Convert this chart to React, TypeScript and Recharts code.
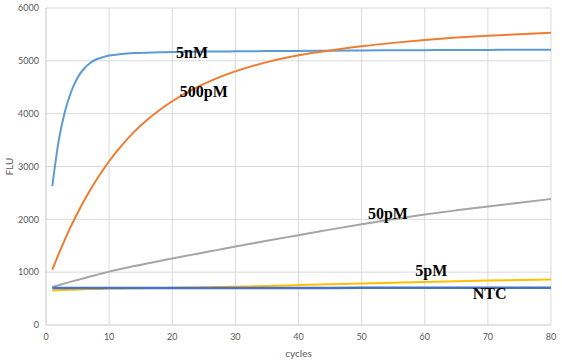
import React from 'react';
import { LineChart, Line, XAxis, YAxis, CartesianGrid, ReferenceDot } from 'recharts';

const cycles = [1, 2, 3, 4, 5, 6, 7, 8, 9, 10, 12, 14, 16, 18, 20, 22, 24, 26, 28, 30, 35, 40, 45, 50, 55, 60, 65, 70, 75, 80];
const series5nM = [2630, 3480, 4040, 4420, 4680, 4850, 4960, 5030, 5070, 5100, 5130, 5146, 5155, 5161, 5166, 5170, 5173, 5176, 5178, 5180, 5184, 5188, 5192, 5196, 5199, 5202, 5205, 5207, 5209, 5210];
const series500pM = [1050, 1340, 1620, 1880, 2120, 2345, 2555, 2750, 2930, 3100, 3400, 3660, 3880, 4070, 4235, 4380, 4505, 4615, 4715, 4800, 4975, 5105, 5195, 5275, 5340, 5395, 5440, 5475, 5505, 5530];
const series50pM = [720, 754, 788, 821, 853, 885, 917, 949, 980, 1010, 1065, 1115, 1165, 1213, 1260, 1305, 1350, 1395, 1440, 1485, 1595, 1700, 1805, 1905, 2000, 2090, 2170, 2245, 2315, 2385];
const series5pM = [655, 660, 664, 668, 672, 676, 680, 683, 686, 689, 692, 695, 698, 701, 704, 708, 712, 716, 721, 726, 740, 755, 770, 785, 800, 815, 828, 840, 850, 860];
const seriesNTC = [700, 700, 700, 700, 700, 700, 700, 700, 700, 700, 700, 700, 701, 701, 701, 701, 701, 701, 701, 702, 702, 702, 702, 703, 703, 703, 704, 704, 704, 705];

const xTicks = [0, 10, 20, 30, 40, 50, 60, 70, 80];
const yTicks = [0, 1000, 2000, 3000, 4000, 5000, 6000];

const annotationTexts = ['5nM', '500pM', '50pM', '5pM', 'NTC'];
const annotationCycles = [20.6, 21.2, 51.0, 58.5, 67.6];
const annotationValues = [5048, 4316, 2006, 918, 486];

const data = cycles.map((c, i) => ({
  cycle: c,
  nM5: series5nM[i],
  pM500: series500pM[i],
  pM50: series50pM[i],
  pM5: series5pM[i],
  ntc: seriesNTC[i],
}));

const tickStyle = { fontSize: 9, fill: '#595959', fontFamily: 'Lato, "Liberation Sans", sans-serif' };
const serif = '"Liberation Serif", "Times New Roman", serif';

export default function App() {
  return (
    <div style={{ position: 'absolute', left: 0, top: 0, width: 562, height: 364, background: '#fff' }}>
      <LineChart width={562} height={364} data={data} margin={{ top: 8, right: 11, bottom: 0, left: 6 }}>
        <CartesianGrid stroke="#d9d9d9" strokeWidth={1} />
        <XAxis
          dataKey="cycle"
          type="number"
          domain={[0, 80]}
          ticks={xTicks}
          height={39}
          tickSize={0}
          tickMargin={9}
          axisLine={{ stroke: '#d9d9d9' }}
          tickLine={false}
          tick={tickStyle}
          label={({ viewBox }: any) => (
            <text x={viewBox.x + viewBox.width / 2} y={357} textAnchor="middle" fontSize={10} fill="#595959" fontFamily={tickStyle.fontFamily}>cycles</text>
          )}
        />
        <YAxis
          type="number"
          domain={[0, 6000]}
          ticks={yTicks}
          width={40}
          tickSize={0}
          tickMargin={7}
          axisLine={{ stroke: '#d9d9d9' }}
          tickLine={false}
          tick={tickStyle}
          label={({ viewBox }: any) => {
            const cy = viewBox.y + viewBox.height / 2;
            return (
              <text x={13} y={cy} transform={`rotate(-90, 13, ${cy})`} textAnchor="middle" fontSize={10} fill="#595959" fontFamily={tickStyle.fontFamily}>FLU</text>
            );
          }}
        />
        <Line type="monotone" dataKey="nM5" stroke="#5b9bd5" strokeWidth={2} dot={false} isAnimationActive={false} />
        <Line type="monotone" dataKey="pM500" stroke="#ed7d31" strokeWidth={2} dot={false} isAnimationActive={false} />
        <Line type="monotone" dataKey="pM50" stroke="#a5a5a5" strokeWidth={2} dot={false} isAnimationActive={false} />
        <Line type="monotone" dataKey="pM5" stroke="#ffc000" strokeWidth={2} dot={false} isAnimationActive={false} />
        <Line type="monotone" dataKey="ntc" stroke="#4472c4" strokeWidth={2.5} dot={false} isAnimationActive={false} />
        {annotationTexts.map((t, i) => (
          <ReferenceDot
            key={t}
            x={annotationCycles[i]}
            y={annotationValues[i]}
            r={0}
            shape={(p: any) => (
              <text x={p.cx} y={p.cy} fontFamily={serif} fontWeight="bold" fontSize={16} fill="#000">{t}</text>
            )}
          />
        ))}
      </LineChart>
    </div>
  );
}
